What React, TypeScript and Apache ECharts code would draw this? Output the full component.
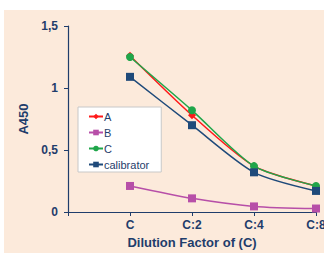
import React, { useEffect, useRef } from "react";
import * as echarts from "echarts";

const categories = ["C", "C:2", "C:4", "C:8"];
const seriesA = [1.26, 0.78, 0.37, 0.21];
const seriesB = [0.21, 0.11, 0.045, 0.028];
const seriesC = [1.25, 0.82, 0.37, 0.21];
const seriesCal = [1.09, 0.70, 0.32, 0.17];
const yTicks = [0, 0.5, 1, 1.5];

const axisColor = "#1F3D6B";
const font = "Liberation Sans";

export default function App() {
  const ref = useRef<HTMLDivElement>(null);
  useEffect(() => {
    if (!ref.current) return;
    const chart = echarts.init(ref.current, undefined, { renderer: "svg" });
    const toPts = (arr: number[]) => arr.map((v, i) => [i + 1, v]);
    const mk = (name: string, data: number[], color: string, symbol: string, size: number) => ({
      name,
      type: "line",
      data: toPts(data),
      smooth: 0.25,
      symbol,
      symbolSize: size,
      itemStyle: { color },
      lineStyle: { color, width: 1.5 },
    });
    chart.setOption({
      animation: false,
      graphic: [
        {
          type: "rect",
          shape: { x: 4, y: 10, width: 320, height: 243 },
          style: { fill: "#FCEADB" },
          z: -10,
          silent: true,
        },
      ],
      grid: { left: 68, right: 8, top: 26, bottom: 43, outerBoundsMode: "none", containLabel: false },
      xAxis: {
        type: "value",
        min: 0,
        max: 4,
        interval: 1,
        name: "Dilution Factor of (C)",
        nameLocation: "middle",
        nameGap: 23,
        nameTextStyle: { color: axisColor, fontSize: 13, fontWeight: "bold", fontFamily: font },
        axisLine: { show: true, onZero: false, lineStyle: { color: axisColor, width: 1.2 } },
        axisTick: { show: true, length: 4, lineStyle: { color: axisColor } },
        splitLine: { show: false },
        axisLabel: {
          color: axisColor,
          fontSize: 12,
          fontWeight: "bold",
          fontFamily: font,
          margin: 7,
          hideOverlap: false,
          showMaxLabel: true,
          formatter: (v: number) => (v >= 1 ? categories[v - 1] ?? "" : ""),
        },
      },
      yAxis: {
        type: "value",
        min: 0,
        max: 1.5,
        interval: 0.5,
        name: "A450",
        nameLocation: "middle",
        nameRotate: 90,
        nameGap: 34,
        nameTextStyle: { color: axisColor, fontSize: 13, fontWeight: "bold", fontFamily: font },
        axisLine: { show: true, lineStyle: { color: axisColor, width: 1.2 } },
        axisTick: { show: true, length: 4, lineStyle: { color: axisColor } },
        splitLine: { show: false },
        axisLabel: {
          color: axisColor,
          fontSize: 12,
          fontWeight: "bold",
          fontFamily: font,
          margin: 10,
          formatter: (v: number) => {
            const t = yTicks.find((x) => Math.abs(x - v) < 1e-9);
            return t === undefined ? "" : String(t).replace(".", ",");
          },
        },
      },
      legend: {
        orient: "vertical",
        left: 78,
        top: 107,
        backgroundColor: "#FFFFFF",
        borderColor: "#C8C8C8",
        borderWidth: 1,
        borderRadius: 0,
        padding: [3, 12, 1, 10],
        itemWidth: 14,
        itemHeight: 7,
        itemGap: 3,
        textStyle: { color: axisColor, fontSize: 11, fontFamily: font, lineHeight: 13, padding: [0, 0, 0, -4] },
        data: ["A", "B", "C", "calibrator"],
      },
      series: [
        mk("A", seriesA, "#FF1A1A", "diamond", 8),
        mk("B", seriesB, "#B74FA8", "rect", 8),
        mk("C", seriesC, "#1FA64A", "circle", 8),
        mk("calibrator", seriesCal, "#1F4A7A", "rect", 8),
      ],
    });
    return () => chart.dispose();
  }, []);
  return (
    <div
      style={{ position: "absolute", left: 0, top: 0, width: 324, height: 255, overflow: "hidden" }}
    >
      <div ref={ref} style={{ width: 324, height: 255, overflow: "hidden" }} />
    </div>
  );
}
